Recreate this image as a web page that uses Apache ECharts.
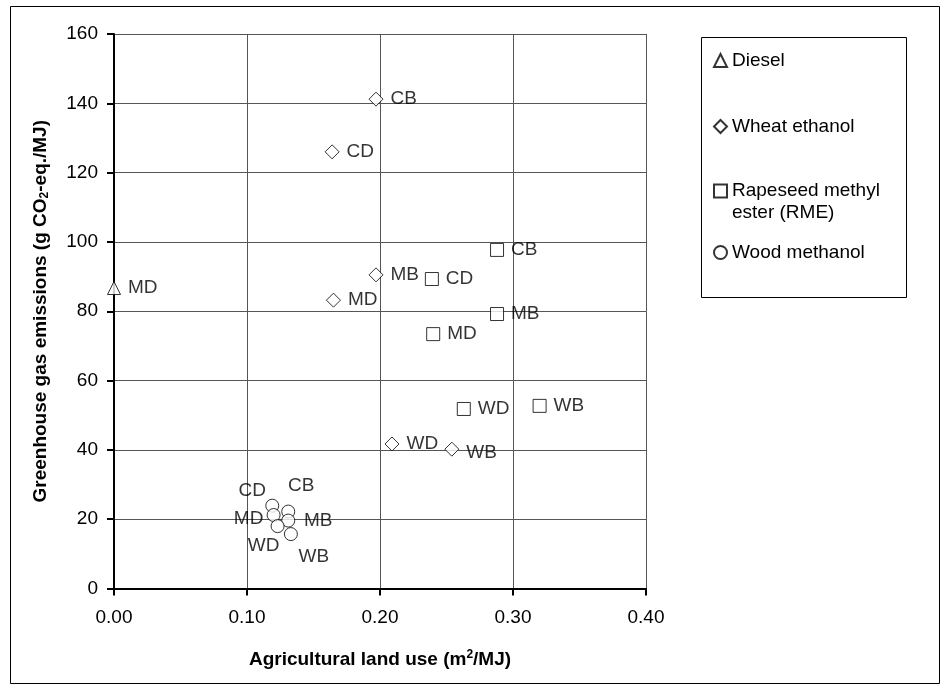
<!DOCTYPE html>
<html>
<head>
<meta charset="utf-8">
<script src="https://cdn.jsdelivr.net/npm/echarts@6/dist/echarts.min.js"></script>
<style>
html,body{margin:0;padding:0;background:#fff;}
#chart{width:945px;height:689px;}
</style>
</head>
<body>
<div id="chart"></div>
<script>
// ---- data ----
const seriesNames = ['Diesel', 'Wheat ethanol', 'Rapeseed methyl ester (RME)', 'Wood methanol'];

const dieselX = [0.000];
const dieselY = [86.7];
const dieselLabels = ['MD'];

const wheatX = [0.197, 0.164, 0.197, 0.165, 0.209, 0.254];
const wheatY = [141.2, 126.0, 90.5, 83.2, 41.7, 40.2];
const wheatLabels = ['CB', 'CD', 'MB', 'MD', 'WD', 'WB'];

const rmeX = [0.288, 0.239, 0.288, 0.240, 0.263, 0.320];
const rmeY = [97.7, 89.3, 79.2, 73.4, 51.8, 52.7];
const rmeLabels = ['CB', 'CD', 'MB', 'MD', 'WD', 'WB'];

const woodX = [0.119, 0.131, 0.120, 0.131, 0.123, 0.133];
const woodY = [23.9, 22.2, 21.2, 19.6, 18.0, 15.7];
const woodLabels = ['CD', 'CB', 'MD', 'MB', 'WD', 'WB'];

const xMin = 0, xMax = 0.4, xStep = 0.1;
const yMin = 0, yMax = 160, yStep = 20;

// ---- styling ----
const FONT = '"Liberation Sans", Arial, sans-serif';
const FS = 19;
const woodLabelOffsets = {CD: [-20, -15], CB: [13, -26], MD: [-25, 4], MB: [30, 0], WD: [-14, 20], WB: [23, 23]};

function makeData(xs, ys, labels, labelFn) {
  return xs.map((x, i) => ({value: [x, ys[i]], name: labels[i], label: labelFn(labels[i])}));
}
const rightLabel = () => ({position: 'right', distance: 7});
const wheatLabel = (l) => l === 'WB' ? {position: 'right', distance: 7, offset: [0, 4]} : {position: 'right', distance: 7};
const woodLabel = (l) => ({position: 'inside', offset: woodLabelOffsets[l]});

const baseLabel = {show: true, formatter: '{b}', color: '#000', fontFamily: FONT, fontSize: FS};
const itemStyle = {color: '#fff', borderColor: '#000', borderWidth: 1};

function scatter(name, symbol, size, data) {
  return {
    type: 'scatter', name: name, symbol: symbol, symbolSize: size,
    itemStyle: itemStyle, label: baseLabel, data: data, z: 3,
    emphasis: {disabled: true}
  };
}

const legendTops = [51, 117, 158, 243];
const legends = seriesNames.map((n, i) => ({
  data: [n], left: 713, top: legendTops[i], orient: 'vertical',
  itemWidth: 13, itemHeight: 13, itemGap: 0, padding: 0,
  selectedMode: false,
  formatter: n === 'Rapeseed methyl ester (RME)' ? ' \nRapeseed methyl\nester (RME)' : '{name}',
  textStyle: n === 'Rapeseed methyl ester (RME)'
    ? {fontFamily: FONT, fontSize: FS, color: '#000', lineHeight: 22}
    : {fontFamily: FONT, fontSize: FS, color: '#000'}
}));

const chart = echarts.init(document.getElementById('chart'), null, {renderer: 'canvas'});
chart.setOption({
  animation: false,
  backgroundColor: '#fff',
  grid: {left: 114, right: 299, top: 34, bottom: 100.5, containLabel: false},
  xAxis: {
    type: 'value', min: xMin, max: xMax, interval: xStep,
    name: 'Agricultural land use (m{sup|2}/MJ)', nameLocation: 'middle', nameGap: 60,
    nameTextStyle: {fontFamily: FONT, fontSize: FS, fontWeight: 'bold', color: '#000',
      rich: {sup: {fontFamily: FONT, fontSize: 12, fontWeight: 'bold', color: '#000', verticalAlign: 'top', padding: [0, 0, 10, 0]}}},
    axisLine: {show: true, onZero: false, lineStyle: {color: '#000', width: 2}},
    axisTick: {show: true, length: 7, lineStyle: {color: '#000', width: 2}},
    axisLabel: {margin: 20, fontFamily: FONT, fontSize: FS, color: '#000', formatter: v => v.toFixed(2)},
    splitLine: {show: true, lineStyle: {color: '#555', width: 1}}
  },
  yAxis: {
    type: 'value', min: yMin, max: yMax, interval: yStep,
    name: 'Greenhouse gas emissions (g CO{sub|2}-eq./MJ)', nameLocation: 'middle', nameGap: 63,
    nameTextStyle: {fontFamily: FONT, fontSize: FS, fontWeight: 'bold', color: '#000',
      rich: {sub: {fontFamily: FONT, fontSize: 12, fontWeight: 'bold', color: '#000', verticalAlign: 'bottom', padding: [8, 0, 0, 0]}}},
    axisLine: {show: true, onZero: false, lineStyle: {color: '#000', width: 2}},
    axisTick: {show: true, length: 7, lineStyle: {color: '#000', width: 2}},
    axisLabel: {margin: 16, fontFamily: FONT, fontSize: FS, color: '#000'},
    splitLine: {show: true, lineStyle: {color: '#555', width: 1}}
  },
  legend: legends,
  graphic: [
    {type: 'rect', left: 8, top: 4, shape: {width: 929, height: 677}, style: {fill: 'none', stroke: '#000', lineWidth: 1}, z: -1, silent: true},
    {type: 'rect', left: 699, top: 35, shape: {width: 205, height: 260}, style: {fill: 'none', stroke: '#000', lineWidth: 1}, silent: true}
  ],
  series: [
    scatter(seriesNames[0], 'triangle', 13, makeData(dieselX, dieselY, dieselLabels, rightLabel)),
    scatter(seriesNames[1], 'diamond', 14, makeData(wheatX, wheatY, wheatLabels, wheatLabel)),
    scatter(seriesNames[2], 'rect', 13, makeData(rmeX, rmeY, rmeLabels, rightLabel)),
    scatter(seriesNames[3], 'circle', 13, makeData(woodX, woodY, woodLabels, woodLabel))
  ]
});
</script>
</body>
</html>
